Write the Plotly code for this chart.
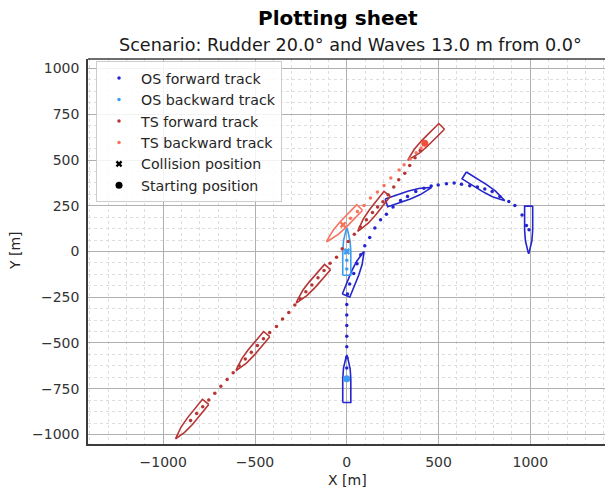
import numpy as np
import plotly.graph_objects as go

# ---------------- data ----------------
# Own ship (OS) forward track dots
os_fwd_x = [0, 0, 0, 0, 0, 0, 0, 0, 4, 16, 38, 56, 76, 98, 125, 153, 184, 216,
            252, 293, 331, 376, 420, 460, 498, 543, 585, 625, 670, 712, 752,
            792, 834, 883, 916, 955, 979, 993]
os_fwd_y = [-695, -637, -579, -521, -463, -405, -347, -289, -232, -177, -120,
            -67, -18, 31, 77, 128, 173, 204, 243, 279, 301, 328, 346, 358, 364,
            370, 374, 368, 359, 352, 341, 328, 300, 273, 251, 200, 142, 119]
# Own ship backward track dots
os_bwd_x = [0, 0, 0]
os_bwd_y = [0, -48, -96]
# Target ship (TS) forward track dots
ts_fwd_x = [430, 400, 372, 343, 316, 283, 256, 225, 197, 168, 140, 107, 74, 41,
            8, -25, -56, -91, -124, -157, -190, -223, -256, -283, -316, -350,
            -383, -420, -454, -487, -520, -553, -586, -619, -652, -686, -719,
            -752, -785, -818, -851]
ts_fwd_y = [592, 552, 512, 470, 428, 392, 352, 310, 272, 243, 213, 173, 134, 94,
            55, 15, -31, -64, -104, -143, -183, -220, -257, -292, -333, -369,
            -410, -443, -477, -514, -551, -588, -625, -663, -700, -737, -774,
            -811, -849, -886, -923]
# Target ship backward track dots
ts_bwd_x = [-20, 20, 58, 94, 129, 167, 203, 240, 285, 312, 345, 378, 405, 430]
ts_bwd_y = [146, 182, 218, 251, 292, 325, 361, 401, 446, 474, 505, 540, 565, 592]

# Drawn hull positions (centre x, centre y, heading deg from north)
os_fwd_ship_x = [0, 45, 339, 750, 991]
os_fwd_ship_y = [-695, -120, 308, 347, 118]
os_fwd_ship_hdg = [0, 22, 71, 122, 180]
os_bwd_ship_x = [0]
os_bwd_ship_y = [0]
os_bwd_ship_hdg = [0]
ts_fwd_ship_x = [425, 140, -190, -520, -851]
ts_fwd_ship_y = [592, 213, -183, -551, -923]
ts_fwd_ship_hdg = [225, 218, 221, 220, 219]
ts_bwd_ship_x = [-20]
ts_bwd_ship_y = [147]
ts_bwd_ship_hdg = [224]

# Collision / starting positions (OS, TS)
collision_x = [0, -20]
collision_y = [0, 146]
start_x = [0, 425]
start_y = [-695, 592]

x_ticks = [-1000, -500, 0, 500, 1000]
y_ticks = [-1000, -750, -500, -250, 0, 250, 500, 750, 1000]

title_text = "Plotting sheet"
subtitle_text = "Scenario: Rudder 20.0° and Waves 13.0 m from 0.0°"

# ---------------- styling ----------------
C_OS_F = "#2525cc"
C_OS_B = "#3b9cf2"
C_TS_F = "#b83434"
C_TS_B = "#f7735e"
SHIP_L = 260.0
SHIP_B = 44.0
FONT = "DejaVu Sans"


def hull_outline(xs, ys, hdgs, L=SHIP_L, B=SHIP_B):
    a, b = L / 2.0, B / 2.0
    s_bow = np.linspace(0, a, 24)
    loc_s = np.concatenate([[-a, -a, 0], s_bow, s_bow[::-1][1:], [-a]])
    loc_t = np.concatenate([[-b, b, b], b * (1 - (s_bow / a) ** 2),
                            -b * (1 - (s_bow[::-1][1:] / a) ** 2), [-b]])
    X, Y = [], []
    for xc, yc, h in zip(xs, ys, hdgs):
        th = np.deg2rad(h)
        fx, fy = np.sin(th), np.cos(th)
        sx, sy = np.cos(th), -np.sin(th)
        X += list(xc + loc_s * fx + loc_t * sx) + [None]
        Y += list(yc + loc_s * fy + loc_t * sy) + [None]
    return X, Y


fig = go.Figure()

for xs, ys, hs, col in [
    (os_fwd_ship_x, os_fwd_ship_y, os_fwd_ship_hdg, C_OS_F),
    (os_bwd_ship_x, os_bwd_ship_y, os_bwd_ship_hdg, C_OS_B),
    (ts_fwd_ship_x, ts_fwd_ship_y, ts_fwd_ship_hdg, C_TS_F),
    (ts_bwd_ship_x, ts_bwd_ship_y, ts_bwd_ship_hdg, C_TS_B),
]:
    hx, hy = hull_outline(xs, ys, hs)
    fig.add_trace(go.Scatter(x=hx, y=hy, mode="lines", line=dict(color=col, width=1.6),
                             showlegend=False, hoverinfo="skip"))

for xs, ys, col, name in [
    (os_fwd_x, os_fwd_y, C_OS_F, "OS forward track"),
    (os_bwd_x, os_bwd_y, C_OS_B, "OS backward track"),
    (ts_fwd_x, ts_fwd_y, C_TS_F, "TS forward track"),
    (ts_bwd_x, ts_bwd_y, C_TS_B, "TS backward track"),
]:
    fig.add_trace(go.Scatter(x=xs, y=ys, mode="markers", name=name,
                             marker=dict(color=col, size=3.5)))

# coloured collision / start markers
fig.add_trace(go.Scatter(x=collision_x, y=collision_y, mode="markers", showlegend=False,
                         marker=dict(symbol="x", size=6, color=[C_OS_B, C_TS_B])))
fig.add_trace(go.Scatter(x=start_x, y=start_y, mode="markers", showlegend=False,
                         marker=dict(symbol="circle", size=7, color=[C_OS_B, "#f0503c"])))
# legend-only entries
fig.add_trace(go.Scatter(x=[None], y=[None], mode="markers", name="Collision position",
                         marker=dict(symbol="x", size=6, color="black")))
fig.add_trace(go.Scatter(x=[None], y=[None], mode="markers", name="Starting position",
                         marker=dict(symbol="circle", size=7, color="black")))

axis_common = dict(
    showgrid=True, gridcolor="#b0b0b0", gridwidth=1.3, zeroline=False,
    showline=True, linecolor="#3c3c3c", linewidth=1.6, mirror=False,
    ticks="outside", ticklen=4, tickcolor="rgba(0,0,0,0)",
    tickfont=dict(family=FONT, size=14, color="#333333"),
)
fig.update_xaxes(range=[-1410, 1407], tickvals=x_ticks, **axis_common,
                 minor=dict(dtick=100, tick0=0, showgrid=True, gridcolor="#dedede",
                            griddash="dot", gridwidth=1))
fig.update_yaxes(range=[-1052, 1052], tickvals=y_ticks, **axis_common,
                 minor=dict(dtick=62.5, tick0=0, showgrid=True, gridcolor="#dedede",
                            griddash="dot", gridwidth=1))

fig.update_layout(
    width=605, height=491,
    margin=dict(l=88, r=0, t=59, b=47),
    plot_bgcolor="white", paper_bgcolor="white",
    font=dict(family=FONT, color="#262626"),
    legend=dict(x=0.0155, y=0.994, xanchor="left", yanchor="top",
                bgcolor="rgba(255,255,255,0.85)", bordercolor="#cccccc", borderwidth=1,
                font=dict(family=FONT, size=14.2, color="#262626"), itemwidth=34),
    shapes=[dict(type="line", xref="paper", yref="paper", x0=0, x1=1, y0=1, y1=1,
                 line=dict(color="#3c3c3c", width=1.6))],
    annotations=[
        dict(text="<b>" + title_text + "</b>", xref="paper", yref="paper",
             x=0.4826, y=1.1065, xanchor="center", yanchor="middle", showarrow=False,
             font=dict(family=FONT, size=20, color="black")),
        dict(text=subtitle_text, xref="paper", yref="paper",
             x=0.5068, y=1.036, xanchor="center", yanchor="middle", showarrow=False,
             font=dict(family=FONT, size=17.6, color="#1a1a1a")),
        dict(text="X [m]", xref="paper", yref="paper", x=(347 - 88) / 517,
             y=(444 - 480) / 385, xanchor="center", yanchor="middle", showarrow=False,
             font=dict(family=FONT, size=14, color="#262626")),
        dict(text="Y [m]", xref="paper", yref="paper", x=(15 - 88) / 517,
             y=(444 - 251) / 385, xanchor="center", yanchor="middle", showarrow=False,
             textangle=-90, font=dict(family=FONT, size=14, color="#262626")),
    ],
)

fig.write_html("out.html")
